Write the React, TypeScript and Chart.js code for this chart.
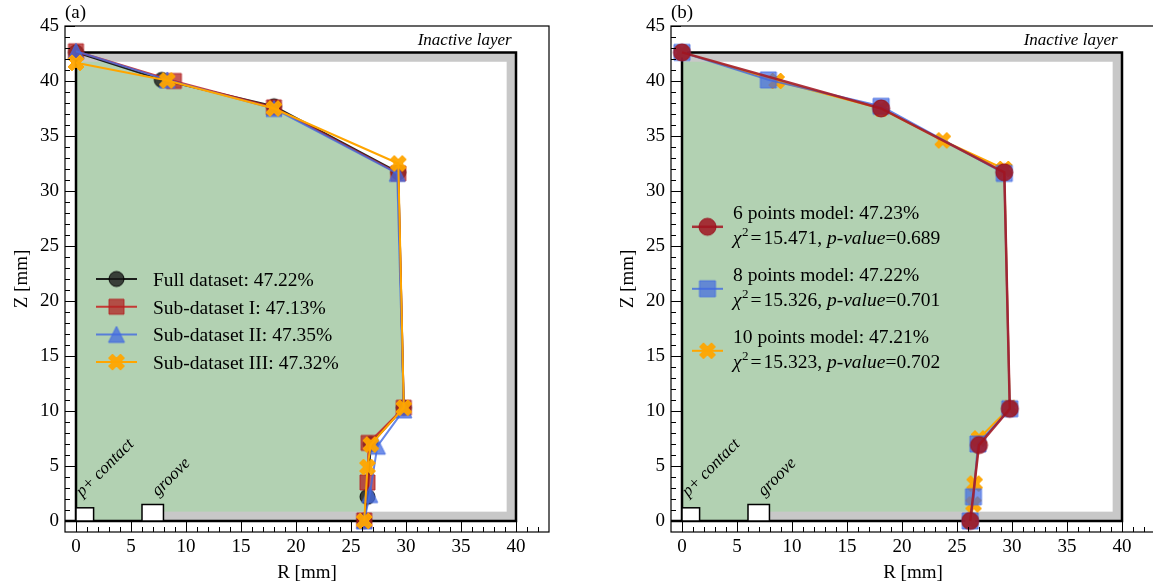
import React, { useEffect, useRef } from 'react';
import { Chart, registerables } from 'chart.js';

Chart.register(...registerables);

const FONT = "'Liberation Serif', 'Times New Roman', 'DejaVu Serif', serif";
Chart.defaults.font.family = FONT;

// ---------- axes ----------
const xTickValues = [0, 5, 10, 15, 20, 25, 30, 35, 40];
const yTickValues = [0, 5, 10, 15, 20, 25, 30, 35, 40, 45];
const X_MIN = -1;
const X_MAX = 43;
const Y_MIN = -1;
const Y_MAX = 45;

// ---------- panel (a) data : R [mm], Z [mm] ----------
const fullR = [0, 7.8, 18.0, 29.3, 29.8, 26.8, 26.5, 26.2];
const fullZ = [42.6, 40.1, 37.7, 31.7, 10.3, 7.0, 2.2, 0.0];
const sub1R = [0, 8.9, 18.0, 29.3, 29.8, 26.6, 26.5, 26.2];
const sub1Z = [42.7, 40.0, 37.6, 31.6, 10.3, 7.1, 3.5, 0.05];
const sub2R = [0, 8.3, 18.0, 29.2, 29.8, 27.4, 26.7, 26.2];
const sub2Z = [42.7, 40.1, 37.5, 31.6, 10.1, 6.8, 2.4, 0.0];
const sub3R = [0, 8.3, 18.0, 29.3, 29.8, 26.8, 26.5, 26.2];
const sub3Z = [41.65, 40.05, 37.5, 32.5, 10.3, 6.95, 4.9, 0.0];
const labelsA = [
  'Full dataset: 47.22%',
  'Sub-dataset I: 47.13%',
  'Sub-dataset II: 47.35%',
  'Sub-dataset III: 47.32%',
];

// ---------- panel (b) data ----------
const m6R = [0, 18.1, 29.3, 29.8, 27.0, 26.2];
const m6Z = [42.6, 37.5, 31.7, 10.2, 6.9, 0.0];
const m8R = [0, 7.85, 18.1, 29.3, 29.8, 26.9, 26.5, 26.2];
const m8Z = [42.6, 40.1, 37.7, 31.6, 10.2, 7.0, 2.2, 0.0];
const m10R = [0, 8.6, 18.1, 23.7, 29.3, 29.8, 27.0, 26.6, 26.5, 26.2];
const m10Z = [42.6, 40.0, 37.5, 34.6, 32.0, 10.3, 7.5, 3.4, 1.5, 0.0];
const labelsB = ['6 points model: 47.23%', '8 points model: 47.22%', '10 points model: 47.21%'];
const chi2B = ['15.471', '15.326', '15.323'];
const pValueB = ['0.689', '0.701', '0.702'];

// ---------- detector geometry (mm) ----------
const DET_R = 40;
const DET_H = 42.6;
const DEAD = 0.85;
const P_CONTACT = { r0: 0, r1: 1.6, h: 1.2 };
const GROOVE = { r0: 6.0, r1: 7.95, h: 1.5 };

const GREEN = '#b2d1b2';
const GRAY = '#c8c8c8';

type Kind = 'circle' | 'square' | 'triangle' | 'x';
type Style = { kind: Kind; size: number; fill: string; edge: string; line: string; lw: number };

const stFull: Style = { kind: 'circle', size: 15, fill: 'rgba(25,25,25,0.8)', edge: 'rgba(0,0,0,0.9)', line: 'rgba(0,0,0,0.85)', lw: 2 };
const stSub1: Style = { kind: 'square', size: 15, fill: 'rgba(178,34,34,0.75)', edge: 'rgba(178,34,34,0.85)', line: 'rgba(200,30,30,0.85)', lw: 2 };
const stSub2: Style = { kind: 'triangle', size: 16, fill: 'rgba(65,105,225,0.75)', edge: 'rgba(65,105,225,0.85)', line: 'rgba(65,105,225,0.8)', lw: 2 };
const stSub3: Style = { kind: 'x', size: 16, fill: 'rgba(255,165,0,0.95)', edge: 'rgba(255,165,0,1)', line: '#ffa500', lw: 2 };
const st6: Style = { kind: 'circle', size: 17, fill: 'rgba(160,20,32,0.85)', edge: 'rgba(150,15,28,0.9)', line: 'rgba(165,30,40,0.9)', lw: 2.5 };
const st8: Style = { kind: 'square', size: 16, fill: 'rgba(65,105,225,0.7)', edge: 'rgba(65,105,225,0.8)', line: 'rgba(65,105,225,0.8)', lw: 2 };
const st10: Style = { kind: 'x', size: 16, fill: 'rgba(255,165,0,0.95)', edge: 'rgba(255,165,0,1)', line: '#ffa500', lw: 2 };

type Series = { r: number[]; z: number[]; st: Style };

type PanelCfg = {
  tag: string;
  fillR: number[];
  fillZ: number[];
  series: Series[]; // index 0 drawn on top
  legend: 'a' | 'b';
};

const panelA: PanelCfg = {
  tag: '(a)',
  fillR: fullR,
  fillZ: fullZ,
  series: [
    { r: sub3R, z: sub3Z, st: stSub3 },
    { r: sub2R, z: sub2Z, st: stSub2 },
    { r: sub1R, z: sub1Z, st: stSub1 },
    { r: fullR, z: fullZ, st: stFull },
  ],
  legend: 'a',
};

const panelB: PanelCfg = {
  tag: '(b)',
  fillR: m6R,
  fillZ: m6Z,
  series: [
    { r: m6R, z: m6Z, st: st6 },
    { r: m8R, z: m8Z, st: st8 },
    { r: m10R, z: m10Z, st: st10 },
  ],
  legend: 'b',
};

function makeMarker(st: Style): HTMLCanvasElement {
  const s = Math.ceil(st.size + 4);
  const c = document.createElement('canvas');
  c.width = s;
  c.height = s;
  const g = c.getContext('2d')!;
  const cx = s / 2;
  const cy = s / 2;
  const h = st.size / 2;
  g.beginPath();
  if (st.kind === 'circle') {
    g.arc(cx, cy, h, 0, Math.PI * 2);
  } else if (st.kind === 'square') {
    g.rect(cx - h, cy - h, 2 * h, 2 * h);
  } else if (st.kind === 'triangle') {
    g.moveTo(cx, cy - h);
    g.lineTo(cx + h, cy + h);
    g.lineTo(cx - h, cy + h);
    g.closePath();
  } else {
    const pts = [[-1, -2], [0, -1], [1, -2], [2, -1], [1, 0], [2, 1], [1, 2], [0, 1], [-1, 2], [-2, 1], [-1, 0], [-2, -1]];
    pts.forEach(([px, py], i) => {
      const X = cx + (px / 4) * st.size;
      const Y = cy + (py / 4) * st.size;
      if (i === 0) g.moveTo(X, Y);
      else g.lineTo(X, Y);
    });
    g.closePath();
  }
  g.fillStyle = st.fill;
  g.fill();
  g.lineWidth = 1;
  g.strokeStyle = st.edge;
  g.stroke();
  return c;
}

function makePlugin(cfg: PanelCfg, markers: Map<Style, HTMLCanvasElement>) {
  return {
    id: 'detector' + cfg.legend,
    beforeDatasetsDraw(chart: any) {
      const { ctx, chartArea: ca, scales } = chart;
      const X = (v: number) => scales.x.getPixelForValue(v);
      const Y = (v: number) => scales.y.getPixelForValue(v);
      ctx.save();
      ctx.beginPath();
      ctx.rect(ca.left, ca.top, ca.right - ca.left, ca.bottom - ca.top);
      ctx.clip();

      // active volume
      ctx.beginPath();
      ctx.moveTo(X(0), Y(0));
      cfg.fillR.forEach((r, i) => ctx.lineTo(X(r), Y(cfg.fillZ[i])));
      ctx.closePath();
      ctx.fillStyle = GREEN;
      ctx.fill();

      // inactive layer bands
      const band = (r0: number, z0: number, r1: number, z1: number) => {
        ctx.fillRect(X(r0), Y(z1), X(r1) - X(r0), Y(z0) - Y(z1));
      };
      ctx.fillStyle = GRAY;
      band(0, DET_H - DEAD, DET_R, DET_H);
      band(DET_R - DEAD, 0, DET_R, DET_H);
      band(GROOVE.r1, 0, DET_R, DEAD);

      // detector outline
      ctx.beginPath();
      ctx.moveTo(X(X_MIN), Y(0));
      ctx.lineTo(X(DET_R), Y(0));
      ctx.lineTo(X(DET_R), Y(DET_H));
      ctx.lineTo(X(0), Y(DET_H));
      ctx.lineTo(X(0), Y(0));
      ctx.lineWidth = 2.5;
      ctx.strokeStyle = '#000';
      ctx.lineJoin = 'miter';
      ctx.stroke();

      // p+ contact and groove
      const box = (b: { r0: number; r1: number; h: number }) => {
        const x0 = X(b.r0);
        const y0 = Y(b.h);
        const w = X(b.r1) - x0;
        const hh = Y(0) - y0;
        ctx.fillStyle = '#fff';
        ctx.fillRect(x0, y0, w, hh);
        ctx.lineWidth = 1.5;
        ctx.strokeStyle = '#000';
        ctx.strokeRect(x0, y0, w, hh);
      };
      box(P_CONTACT);
      box(GROOVE);

      // texts
      ctx.fillStyle = '#000';
      ctx.font = `italic 17px ${FONT}`;
      ctx.textBaseline = 'alphabetic';
      ctx.textAlign = 'right';
      ctx.fillText('Inactive layer', X(39.6), Y(43.25));
      ctx.textAlign = 'left';
      const rot = (t: string, r: number, z: number) => {
        ctx.save();
        ctx.translate(X(r), Y(z));
        ctx.rotate(-Math.PI / 4);
        ctx.fillText(t, 0, 0);
        ctx.restore();
      };
      rot('p+ contact', 0.55, 2.15);
      rot('groove', 7.45, 2.2);
      ctx.restore();
    },
    afterDraw(chart: any) {
      const { ctx, chartArea: ca, scales } = chart;
      const X = (v: number) => scales.x.getPixelForValue(v);
      const Y = (v: number) => scales.y.getPixelForValue(v);
      ctx.save();
      // ticks (inward)
      ctx.strokeStyle = '#000';
      ctx.lineWidth = 1;
      ctx.beginPath();
      for (let v = X_MIN + 1; v < X_MAX; v++) {
        const len = v % 5 === 0 ? 10 : 5;
        const px = Math.round(X(v)) + 0.5;
        ctx.moveTo(px, ca.bottom);
        ctx.lineTo(px, ca.bottom - len);
      }
      for (let v = Y_MIN + 1; v <= Y_MAX; v++) {
        const len = v % 5 === 0 ? 10 : 5;
        const py = Math.round(Y(v)) + 0.5;
        ctx.moveTo(ca.left, py);
        ctx.lineTo(ca.left + len, py);
      }
      ctx.stroke();
      // frame
      ctx.lineWidth = 1.2;
      ctx.strokeRect(ca.left, ca.top, ca.right - ca.left, ca.bottom - ca.top);

      // panel tag
      ctx.fillStyle = '#000';
      ctx.font = `19px ${FONT}`;
      ctx.textAlign = 'left';
      ctx.textBaseline = 'alphabetic';
      ctx.fillText(cfg.tag, ca.left, 18);

      // legend
      const drawMarker = (st: Style, cx: number, cy: number) => {
        const m = markers.get(st)!;
        ctx.drawImage(m, cx - m.width / 2, cy - m.height / 2);
      };
      if (cfg.legend === 'a') {
        const order = [stFull, stSub1, stSub2, stSub3];
        const lx0 = ca.left + 31;
        const lx1 = ca.left + 72;
        const tx = ca.left + 88;
        order.forEach((st, i) => {
          const cy = ca.top + 253 + i * 27.7;
          ctx.strokeStyle = st.line;
          ctx.lineWidth = st.lw;
          ctx.beginPath();
          ctx.moveTo(lx0, cy);
          ctx.lineTo(lx1, cy);
          ctx.stroke();
          drawMarker(st, (lx0 + lx1) / 2, cy);
          ctx.fillStyle = '#000';
          ctx.font = `19.5px ${FONT}`;
          ctx.fillText(labelsA[i], tx, cy + 7);
        });
      } else {
        const order = [st6, st8, st10];
        const lx0 = ca.left + 21;
        const lx1 = ca.left + 52;
        const tx = ca.left + 62;
        order.forEach((st, i) => {
          const b1 = ca.top + 193.3 + i * 62;
          const b2 = b1 + 24.5;
          const cy = b1 + 7.5;
          ctx.strokeStyle = st.line;
          ctx.lineWidth = st.lw;
          ctx.beginPath();
          ctx.moveTo(lx0, cy);
          ctx.lineTo(lx1, cy);
          ctx.stroke();
          drawMarker(st, (lx0 + lx1) / 2, cy);
          ctx.fillStyle = '#000';
          const reg = `19.5px ${FONT}`;
          const ita = `italic 19.5px ${FONT}`;
          ctx.font = reg;
          ctx.fillText(labelsB[i], tx, b1);
          let x = tx;
          const seg = (t: string, font: string, dy = 0, gap = 0) => {
            ctx.font = font;
            ctx.fillText(t, x, b2 + dy);
            x += ctx.measureText(t).width + gap;
          };
          seg('\u03c7', ita, 0, 0.5);
          seg('2', `13px ${FONT}`, -8, 2);
          seg('=', reg, 0, 2);
          seg(chi2B[i] + ', ', reg);
          seg('p-value', ita);
          seg('=' + pValueB[i], reg);
        });
      }
      ctx.restore();
    },
  };
}

function buildConfig(cfg: PanelCfg): any {
  const markers = new Map<Style, HTMLCanvasElement>();
  cfg.series.forEach((s) => markers.set(s.st, makeMarker(s.st)));
  const tickFont = { family: FONT, size: 19 };
  const titleFont = { family: FONT, size: 19 };
  return {
    type: 'scatter',
    data: {
      datasets: cfg.series.map((s) => ({
        data: s.r.map((r, i) => ({ x: r, y: s.z[i] })),
        showLine: true,
        borderColor: s.st.line,
        borderWidth: s.st.lw,
        backgroundColor: s.st.fill,
        pointStyle: markers.get(s.st),
        pointRadius: 8,
        pointHoverRadius: 8,
        tension: 0,
      })),
    },
    options: {
      animation: false,
      responsive: false,
      maintainAspectRatio: false,
      devicePixelRatio: 1,
      events: [],
      layout: { padding: { left: 0, right: 27, top: 26, bottom: 0 } },
      plugins: { legend: { display: false }, tooltip: { enabled: false }, title: { display: false } },
      scales: {
        x: {
          type: 'linear',
          min: X_MIN,
          max: X_MAX,
          grid: { display: false, drawTicks: false },
          border: { display: false },
          ticks: { font: tickFont, color: '#000', padding: 4, maxRotation: 0 },
          title: { display: true, text: 'R [mm]', font: titleFont, color: '#000', padding: { top: 0, bottom: 4 } },
          afterBuildTicks: (axis: any) => {
            axis.ticks = xTickValues.map((v) => ({ value: v }));
          },
          afterFit: (axis: any) => {
            axis.height = 56;
          },
        },
        y: {
          type: 'linear',
          min: Y_MIN,
          max: Y_MAX,
          grid: { display: false, drawTicks: false },
          border: { display: false },
          ticks: { font: tickFont, color: '#000', padding: 6 },
          title: { display: true, text: 'Z [mm]', font: titleFont, color: '#000', padding: { top: 11, bottom: 0 } },
          afterBuildTicks: (axis: any) => {
            axis.ticks = yTickValues.map((v) => ({ value: v }));
          },
          afterFit: (axis: any) => {
            axis.width = 65;
          },
        },
      },
    },
    plugins: [makePlugin(cfg, markers)],
  };
}

function Panel({ left, cfg }: { left: number; cfg: PanelCfg }) {
  const ref = useRef<HTMLCanvasElement>(null);
  useEffect(() => {
    const chart = new Chart(ref.current!, buildConfig(cfg));
    return () => chart.destroy();
  }, [cfg]);
  return (
    <canvas
      ref={ref}
      width={576}
      height={588}
      style={{ position: 'absolute', left, top: 0, width: 576, height: 588 }}
    />
  );
}

export default function App() {
  return (
    <div
      style={{
        position: 'fixed',
        left: 0,
        top: 0,
        width: 1153,
        height: 588,
        overflow: 'hidden',
        background: '#fff',
      }}
    >
      <Panel left={0} cfg={panelA} />
      <Panel left={606} cfg={panelB} />
    </div>
  );
}
